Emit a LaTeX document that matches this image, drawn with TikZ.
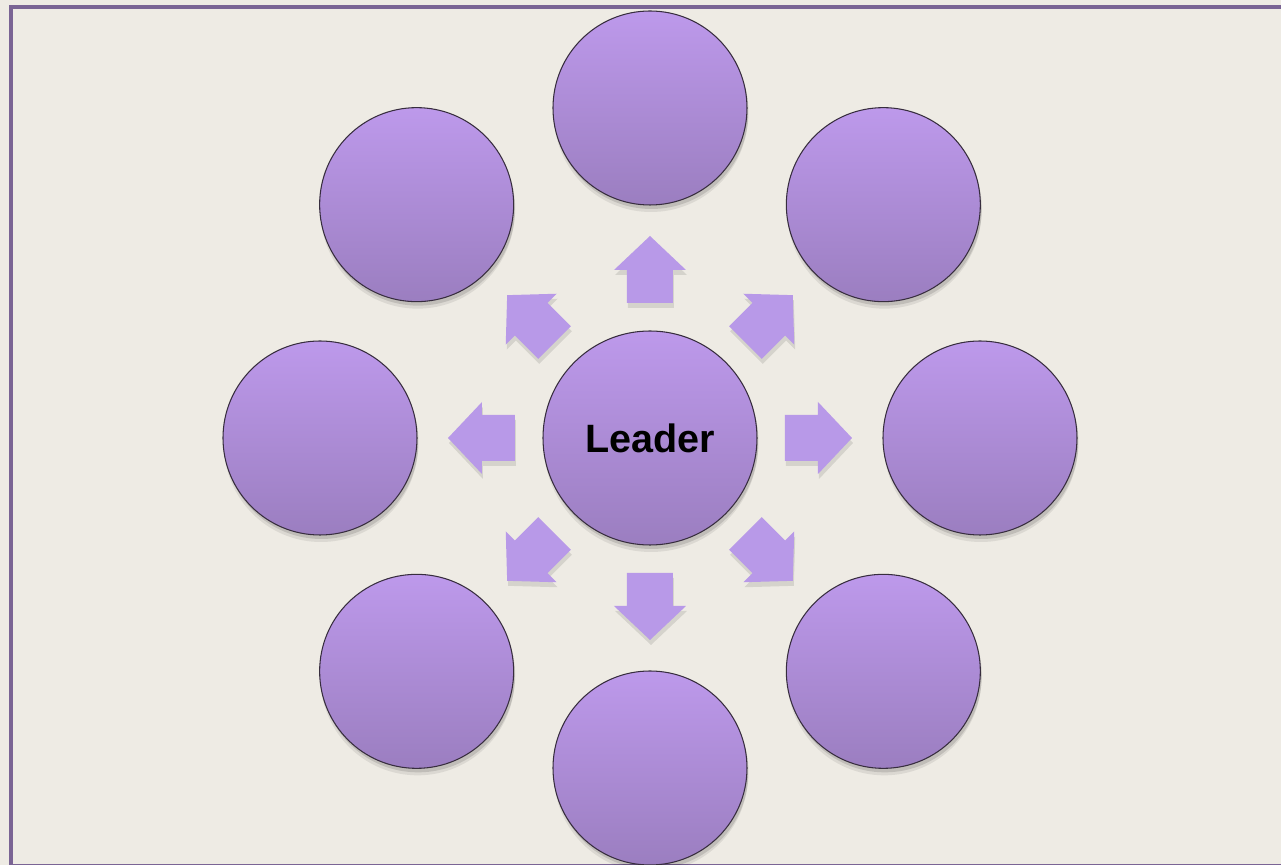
\documentclass[tikz,border=0pt]{standalone}
\usepackage{fontspec}
\setsansfont{Liberation Sans}
\usepackage{tikz}
\usetikzlibrary{shadows}
\definecolor{paper}{RGB}{238,235,228}
\definecolor{frame}{RGB}{122,100,148}
\definecolor{lilac}{RGB}{189,153,235}
\definecolor{lilacdk}{RGB}{155,126,192}
\definecolor{arr}{RGB}{184,153,232}
\definecolor{rim}{RGB}{55,45,62}

\begin{document}
\begin{tikzpicture}[font=\sffamily\bfseries,
 ball/.style={circle,draw=rim,line width=0.6pt,top color=lilac,bottom color=lilacdk,minimum size=3.88cm,inner sep=0pt,
   drop shadow={shadow xshift=0.2mm,shadow yshift=-1.4mm,opacity=0.08,fill=black},
   drop shadow={shadow xshift=0.3mm,shadow yshift=-0.8mm,opacity=0.12,fill=black}},
 hub/.style={ball,minimum size=4.28cm},
 blk/.style={fill=arr},
 blkshade/.style={fill=black,opacity=0.1}]
 \useasboundingbox[fill=paper] (-13,-8.54) rectangle (12.62,8.76);
 \draw[frame,line width=0.08cm] (12.8,8.61) -- (-12.78,8.61) -- (-12.78,-8.57) -- (12.8,-8.57);
 % ring of members
 \foreach \a/\nm in {90/mtop,45/mtopright,0/mright,-45/mbotright,-90/mbot,-135/mbotleft,180/mleft,135/mtopleft}
   \node[ball] (\nm) at (\a:6.6) {};
 \node[hub] (leader) at (0,0) {\fontsize{22.5}{27}\selectfont Leader};
 % block arrows out of the leader
 \foreach \a in {0,45,...,315}{
   \fill[blkshade,shift={(0.02,-0.1)},rotate=\a] (2.70,-0.46) -- (3.36,-0.46) -- (3.36,-0.72) -- (4.04,0) -- (3.36,0.72) -- (3.36,0.46) -- (2.70,0.46) -- cycle;
   \fill[blk,rotate=\a] (2.70,-0.46) -- (3.36,-0.46) -- (3.36,-0.72) -- (4.04,0) -- (3.36,0.72) -- (3.36,0.46) -- (2.70,0.46) -- cycle;
 }
\end{tikzpicture}
\end{document}
